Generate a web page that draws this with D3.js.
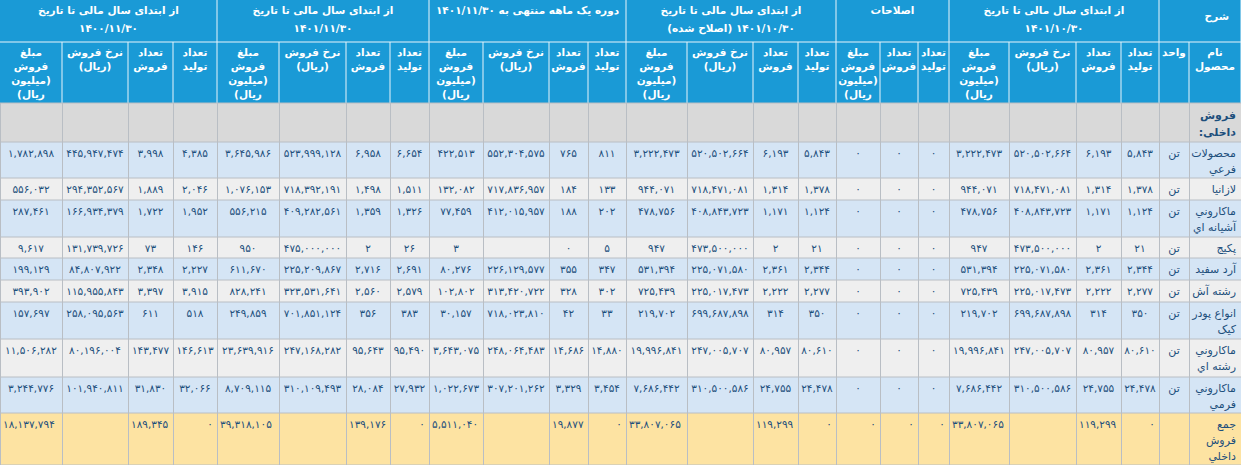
<!DOCTYPE html>
<html><head><meta charset="utf-8">
<script src="https://cdn.jsdelivr.net/npm/d3@7"></script>
<style>body{margin:0;background:#fff}svg{display:block}text{font-family:"DejaVu Sans",sans-serif}</style>
</head><body><svg id="c" width="1241" height="465"></svg>
<script>
// ---- data (values per group in order: تولید, فروش, نرخ, مبلغ) ----
const products = ["محصولات|فرعي","لازانيا","ماکاروني|آشيانه اي","پکيج","آرد سفيد","رشته آش","انواع پودر|کيک","ماکاروني|رشته اي","ماکاروني|فرمي"];
const units = ["تن","تن","تن","تن","تن","تن","تن","تن","تن"];
const ytd1401_10 = [[5843,6193,520502664,3222473],[1378,1314,718471081,944071],[1124,1171,408843723,478756],[21,2,473500000,947],[2344,2361,225071580,531394],[2277,2222,225017473,725439],[350,314,699687898,219702],[80610,80957,247005707,19996841],[24478,24755,310500586,7686442]];
const adjustments = [[0,0,0],[0,0,0],[0,0,0],[0,0,0],[0,0,0],[0,0,0],[0,0,0],[0,0,0],[0,0,0]];
const corrected1401_10 = ytd1401_10.map(r=>r.slice());
const month1401_11 = [[811,765,552304575,422513],[133,184,717836957,132082],[202,188,412015957,77459],[5,0,null,3],[347,355,226129577,80276],[302,328,313420722,102802],[33,42,718023810,30157],[14880,14686,248064483,3643075],[3454,3329,307201262,1022673]];
const ytd1401_11 = [[6654,6958,523999128,3645986],[1511,1498,718392191,1076153],[1326,1359,409282561,556215],[26,2,475000000,950],[2691,2716,225209867,611670],[2579,2560,323531641,828241],[383,356,701851124,249859],[95490,95643,247168282,23639916],[27932,28084,310109493,8709115]];
const ytd1400_11 = [[4385,3998,445947474,1782898],[2046,1889,294352567,556032],[1952,1722,166934379,287461],[146,73,131739726,9617],[2227,2348,84807922,199129],[3915,3397,115955843,393902],[518,611,258095563,157697],[146613,143477,80196004,11506282],[32066,31830,101940811,3244776]];
const totalLabel = "جمع|فروش|داخلي";
const totals = {g1:[0,119299,null,33807065], adj:[0,0,0], cor:[0,119299,null,33807065], mon:[0,19877,null,5511040], ytd:[0,139176,null,39318105], prev:[0,189345,null,18137794]};
const groupTitles = {prev:["از ابتدای سال مالی تا تاریخ","۱۴۰۰/۱۱/۳۰"], ytd:["از ابتدای سال مالی تا تاریخ","۱۴۰۱/۱۱/۳۰"], mon:["دوره یک ماهه منتهی به ۱۴۰۱/۱۱/۳۰"], cor:["از ابتدای سال مالی تا تاریخ","۱۴۰۱/۱۰/۳۰ (اصلاح شده)"], adj:["اصلاحات"], g1:["از ابتدای سال مالی تا تاریخ","۱۴۰۱/۱۰/۳۰"], desc:["شرح"]};
const subHeads4 = ["تعداد|تولید","تعداد|فروش","نرخ فروش|(ریال)","مبلغ|فروش|(میلیون|ریال)"];
const subHeads3 = ["تعداد|تولید","تعداد|فروش","مبلغ|فروش|(میلیون|ریال)"];
const sectionLabel = "فروش|داخلی:";

// ---- layout ----
const colEdges = [0,62,128,173,217,279,346,390,429,483,549,588,626,687,753,798,836,880,918,949,1009,1076,1121,1159,1189,1241];
const rowEdges = [142,178,200,237,258,280,302,339,377,413,465];
const svg = d3.select("#c");
const fa = s => String(s).replace(/\d/g,d=>"۰۱۲۳۴۵۶۷۸۹"[d]);
const fmt = v => v==null ? "" : fa(d3.format(",")(v));
const colX = d3.scaleOrdinal().domain(d3.range(25)).range(colEdges.slice(0,25));
const colW = i => colEdges[i+1]-colEdges[i];
const rowY = d3.scaleOrdinal().domain(d3.range(10)).range(rowEdges.slice(0,10));
const rowH = i => rowEdges[i+1]-rowEdges[i];
const groups = [["prev",0,4],["ytd",4,4],["mon",8,4],["cor",12,4],["adj",16,3],["g1",19,4],["desc",23,2]];
const blue="#1a9ad6", line="#b9bec4", txt="#1d4f7c";

// anchor: "right" | "middle"
function multiText(g, x, y, lines, anchor, lh, attrs){
  const t = g.append("text").attr("x",x).attr("y",y).attr("direction","rtl")
    .attr("text-anchor", anchor==="right" ? "start" : "middle");
  for(const k in attrs) t.attr(k,attrs[k]);
  lines.forEach((l,i)=>t.append("tspan").attr("x",x).attr("dy",i?lh:0).text(l));
  return t;
}
svg.append("rect").attr("x",0).attr("y",0).attr("width",1241).attr("height",103).attr("fill",blue);
const hs = {fill:"#fff","font-size":"10.5px","font-weight":"bold"};
groups.forEach(([k,c,n])=>{
  const x0=colX(c), x1=colEdges[c+n];
  const tt=groupTitles[k];
  if(k==="desc") multiText(svg,x1-12,20,tt,"right",16,hs);
  else multiText(svg,(x0+x1)/2,14,tt,"middle",18,hs);
  svg.append("line").attr("x1",x1).attr("x2",x1).attr("y1",0).attr("y2",103).attr("stroke","#e8f4fb");
  const heads = k==="desc" ? ["واحد","نام|محصول"] : (n===3?subHeads3:subHeads4).slice().reverse();
  heads.forEach((h,j)=>{
    const ci=c+j, cx=colX(ci)+colW(ci)/2;
    multiText(svg,cx,56,h.split("|"),"middle",14,hs);
    if(j<n-1) svg.append("line").attr("x1",colX(ci)+colW(ci)).attr("x2",colX(ci)+colW(ci)).attr("y1",42).attr("y2",103).attr("stroke","#e8f4fb");
  });
});
svg.append("line").attr("x1",0).attr("x2",1241).attr("y1",42).attr("y2",42).attr("stroke","#e8f4fb");
svg.append("rect").attr("x",0).attr("y",103).attr("width",1241).attr("height",39).attr("fill","#d9d9d9");
multiText(svg,1236,119,sectionLabel.split("|"),"right",17,{fill:txt,"font-size":"11px","font-weight":"bold"});

const groupData = {g1:ytd1401_10, adj:adjustments, cor:corrected1401_10, mon:month1401_11, ytd:ytd1401_11, prev:ytd1400_11};
const allRows = products.map((p,i)=>({name:p,unit:units[i],i,total:false})).concat([{name:totalLabel,unit:"",i:9,total:true}]);
allRows.forEach(r=>{
  const y=rowY(r.i), h=rowH(r.i);
  const fill = r.total ? "#fde3a2" : (r.i%2===0 ? "#d5e5f5" : "#efefef");
  svg.append("rect").attr("x",0).attr("y",y).attr("width",1241).attr("height",h).attr("fill",fill);
  multiText(svg,1236,y+15,r.name.split("|"),"right",16,{fill:txt,"font-size":"11px"});
  if(r.unit) svg.append("text").attr("x",colX(23)+colW(23)/2).attr("y",y+15).attr("text-anchor","middle").attr("fill",txt).attr("font-size","11px").text(r.unit);
  groups.forEach(([k,c,n])=>{
    if(k==="desc") return;
    const vals = r.total ? totals[k] : groupData[k][r.i];
    vals.forEach((v,j)=>{
      const ci=c+n-1-j;
      const t=svg.append("text").attr("y",y+15).attr("fill",txt).attr("font-size","10.5px").text(fmt(v));
      if(r.total && v!==0){ t.attr("x",colX(ci)+3).attr("text-anchor","start"); }
      else if(r.total){ t.attr("x",colX(ci)+colW(ci)-4).attr("text-anchor","end"); }
      else t.attr("x",colX(ci)+colW(ci)/2).attr("text-anchor","middle");
    });
  });
});
rowEdges.forEach(y=>svg.append("line").attr("x1",0).attr("x2",1241).attr("y1",y).attr("y2",y).attr("stroke",line));
svg.append("line").attr("x1",0).attr("x2",1241).attr("y1",103).attr("y2",103).attr("stroke",line);
colEdges.forEach(x=>svg.append("line").attr("x1",x+0.5).attr("x2",x+0.5).attr("y1",103).attr("y2",465).attr("stroke",line));
</script></body></html>
